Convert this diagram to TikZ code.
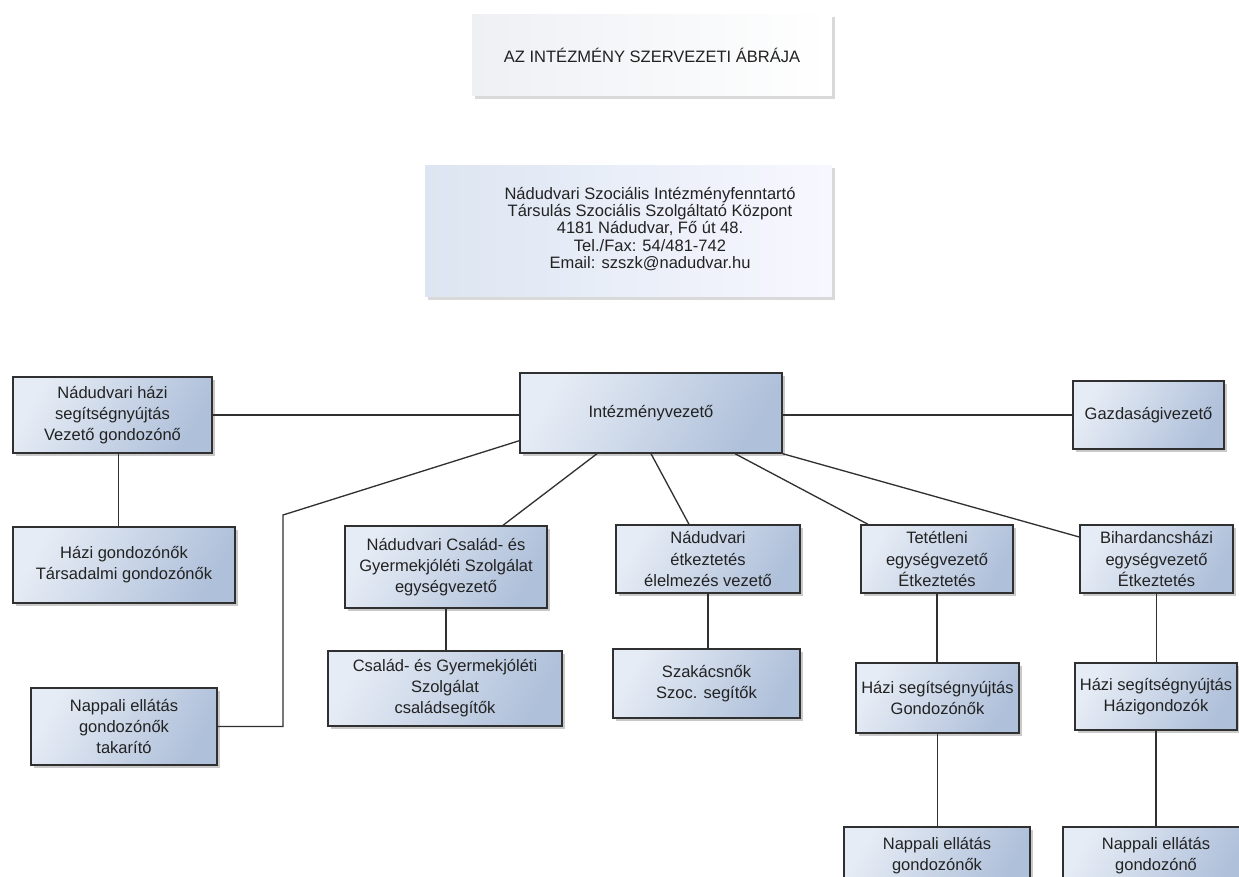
\documentclass[tikz,border=0pt]{standalone}
\usepackage{fontspec}
\setmainfont{Liberation Sans}
\usepackage{tikz}
\usetikzlibrary{shadows}
\usetikzlibrary{calc}
\usetikzlibrary{positioning}
\definecolor{boxlight}{HTML}{E6ECF5}
\definecolor{boxdark}{HTML}{AFC0DA}
\definecolor{addrlight}{HTML}{DCE5F1}
\definecolor{titlelight}{HTML}{EEF0F4}
\definecolor{linegray}{HTML}{303030}
\definecolor{textgray}{HTML}{222222}
\tikzstyle{unit} = [rectangle, draw=linegray, line width=0.8pt, left color=boxlight, right color=boxdark, shading angle=60, align=center, text=textgray, inner sep=0pt, font=\fontsize{9.4}{12}\selectfont, drop shadow={shadow xshift=1.5pt, shadow yshift=-1.5pt, opacity=0.3, fill=black!70}]
\tikzstyle{head} = [rectangle, left color=titlelight, right color=white, shading angle=90, align=center, text=textgray, inner sep=0pt, font=\fontsize{9.4}{12}\selectfont, drop shadow={shadow xshift=1.5pt, shadow yshift=-1.5pt, opacity=0.25, fill=black!60}]
\tikzstyle{link} = [draw=linegray, line width=0.75pt]

\begin{document}
\begin{tikzpicture}[x=0.02cm, y=-0.02cm]

  \useasboundingbox (0,0) rectangle (1239,876);
  \clip (0,0) rectangle (1239,876);

  % title and address
  \node[head, minimum width=7.2cm, minimum height=1.64cm] (title) at (652,55) {AZ INTÉZMÉNY SZERVEZETI ÁBRÁJA};
  \node[head, left color=addrlight, right color=white!97!blue, minimum width=8.14cm, minimum height=2.64cm] (addr) at (628.5,231) {};
  \node[align=center, text=textgray, font=\fontsize{9.4}{9.8}\selectfont] (addrtext) at ($(addr.center)+(21.5,-2)$)
    {Nádudvari Szociális Intézményfenntartó\\Társulás Szociális Szolgáltató Központ\\4181 Nádudvar, Fő út 48.\\Tel./Fax: 54/481-742\\Email: szszk@nadudvar.hu};

  % row 1
  \node[unit, minimum width=5.24cm, minimum height=1.6cm] (vez) at (651,413) {Intézményvezető};
  \node[unit, minimum width=3.98cm, minimum height=1.52cm] (hazi) at (112.5,415) {Nádudvari házi\\segítségnyújtás\\Vezető gondozónő};
  \node[unit, minimum width=3.02cm, minimum height=1.36cm] (gazd) at (1148.5,415) {Gazdaságivezető};

  % row 2
  \node[unit, minimum width=4.44cm, minimum height=1.52cm] (hgond) at (124,565) {Házi gondozónők\\Társadalmi gondozónők};
  \node[unit, minimum width=4.04cm, minimum height=1.64cm] (csal) at (446,567) {Nádudvari Család- és\\Gyermekjóléti Szolgálat\\egységvezető};
  \node[unit, minimum width=3.68cm, minimum height=1.36cm] (etk) at (708,559) {Nádudvari\\étkeztetés\\élelmezés vezető};
  \node[unit, minimum width=3.04cm, minimum height=1.36cm] (tet) at (937,559) {Tetétleni\\egységvezető\\Étkeztetés};
  \node[unit, minimum width=3.06cm, minimum height=1.36cm] (bih) at (1156.5,559) {Bihardancsházi\\egységvezető\\Étkeztetés};

  % row 3
  \node[unit, minimum width=3.72cm, minimum height=1.54cm] (napp) at (124,726.5) {Nappali ellátás\\gondozónők\\takarító};
  \node[unit, minimum width=4.68cm, minimum height=1.5cm] (csseg) at (445,688.5) {Család- és Gyermekjóléti\\Szolgálat\\családsegítők};
  \node[unit, minimum width=3.74cm, minimum height=1.38cm] (szak) at (706.5,683.5) {Szakácsnők\\Szoc. segítők};
  \node[unit, minimum width=3.26cm, minimum height=1.4cm] (tethazi) at (937.5,698) {Házi segítségnyújtás\\Gondozónők};
  \node[unit, minimum width=3.24cm, minimum height=1.34cm] (bihhazi) at (1156,696.5) {Házi segítségnyújtás\\Házigondozók};

  % row 4 (runs off the page)
  \node[unit, minimum width=3.72cm, minimum height=1.16cm] (tetnapp) at (937,856) {Nappali ellátás\\gondozónők};
  \node[unit, minimum width=3.72cm, minimum height=1.16cm] (bihnapp) at (1156,856) {Nappali ellátás\\gondozónő};

  % connectors
  \coordinate (bend) at (283,515);
  \draw[link] (hazi.east) -- (hazi.east -| vez.west);
  \draw[link] (vez.east |- gazd.west) -- (gazd.west);
  \draw[link] ($(hazi.south)+(6,0)$) -- ($(hazi.south |- hgond.north)+(6,0)$);
  \draw[link] (napp.east) -| (bend) -- ($(vez.south west)+(0,-13)$);
  \draw[link] ($(csal.north)+(57,0)$) -- ($(vez.south)+(-54,0)$);
  \draw[link] ($(etk.north)+(-19,0)$) -- (vez.south);
  \draw[link] ($(tet.north)+(-69,0)$) -- ($(vez.south)+(84,0)$);
  \draw[link] ($(bih.west)+(0,-22)$) -- (vez.south east);
  \draw[link] (csal.south) -- (csal.south |- csseg.north);
  \draw[link] (etk.south) -- (etk.south |- szak.north);
  \draw[link] (tet.south) -- (tet.south |- tethazi.north);
  \draw[link] (tethazi.south) -- (tethazi.south |- tetnapp.north);
  \draw[link] (bih.south) -- (bih.south |- bihhazi.north);
  \draw[link] (bihhazi.south) -- (bihhazi.south |- bihnapp.north);

\end{tikzpicture}
\end{document}
